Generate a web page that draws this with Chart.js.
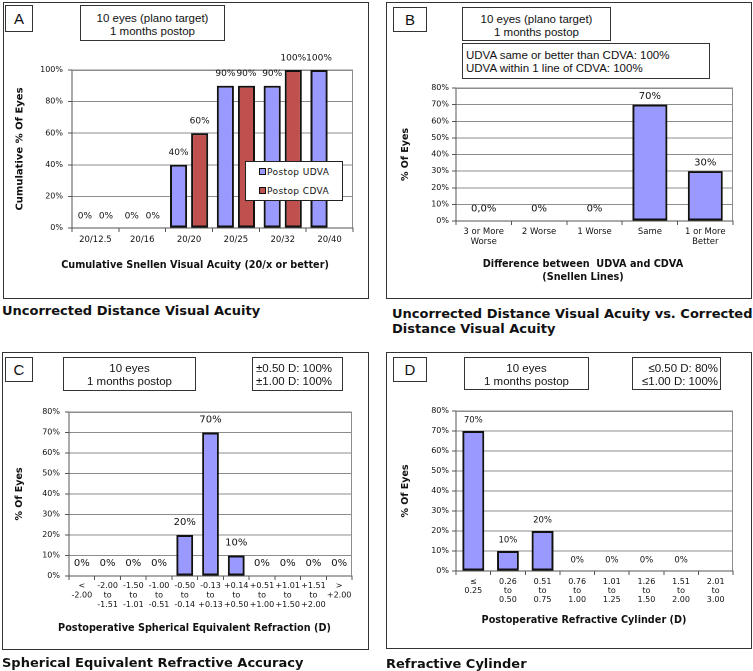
<!DOCTYPE html>
<html><head><meta charset="utf-8">
<script src="https://cdn.jsdelivr.net/npm/chart.js@4.4.0/dist/chart.umd.min.js"></script>
<style>
html,body{margin:0;padding:0;background:#fff;}
body{width:753px;height:671px;position:relative;overflow:hidden;font-family:'Liberation Sans',Arial,sans-serif;color:#111;}
.abs{position:absolute;box-sizing:border-box;}
.panel{border:1px solid #333;}
.box{border:1px solid #333;background:#fff;font-size:11.5px;line-height:13px;white-space:nowrap;}
.letter{font-size:15px;display:flex;align-items:center;justify-content:center;}
.ctr{text-align:center;}
.xt{font-family:'DejaVu Sans',sans-serif;font-weight:bold;font-size:9.7px;text-align:center;white-space:nowrap;line-height:13px;width:400px;}
.cap{font-family:'DejaVu Sans',sans-serif;font-weight:bold;font-size:13px;white-space:nowrap;line-height:15px;}
canvas{position:absolute;}
.leg{border:1px solid #222;background:#fff;font-family:'DejaVu Sans',sans-serif;font-size:9px;letter-spacing:0.4px;}
.legItem{position:absolute;left:13px;white-space:nowrap;line-height:11px;}
.sw{display:inline-block;width:5px;height:5px;border:1px solid #111;margin-right:1px;vertical-align:0px;}
</style></head>
<body>
<script>
// ---------------- DATA ----------------
const categoriesA = ['20/12.5', '20/16', '20/20', '20/25', '20/32', '20/40'];
const udvaA = [0, 0, 40, 90, 90, 100];
const cdvaA = [0, 0, 60, 90, 100, null];
const seriesNamesA = ['Postop UDVA', 'Postop CDVA'];

const categoriesB = [['3 or More', 'Worse'], '2 Worse', '1 Worse', 'Same', ['1 or More', 'Better']];
const valuesB = [0, 0, 0, 70, 30];
const labelTextB = ['0,0%', '0%', '0%', '70%', '30%'];

const categoriesC = [['<', '-2.00'], ['-2.00', 'to', '-1.51'], ['-1.50', 'to', '-1.01'], ['-1.00', 'to', '-0.51'],
  ['-0.50', 'to', '-0.14'], ['-0.13', 'to', '+0.13'], ['+0.14', 'to', '+0.50'], ['+0.51', 'to', '+1.00'],
  ['+1.01', 'to', '+1.50'], ['+1.51', 'to', '+2.00'], ['>', '+2.00']];
const valuesC = [0, 0, 0, 0, 20, 70, 10, 0, 0, 0, 0];

const categoriesD = [['≤', '0.25'], ['0.26', 'to', '0.50'], ['0.51', 'to', '0.75'], ['0.76', 'to', '1.00'],
  ['1.01', 'to', '1.25'], ['1.26', 'to', '1.50'], ['1.51', 'to', '2.00'], ['2.01', 'to', '3.00']];
const valuesD = [70, 10, 20, 0, 0, 0, 0, null];

const yMaxA = 100, yStepA = 20;
const yMaxBCD = 80, yStepBCD = 10;
</script>

<div class="abs panel" style="left:3px;top:2px;width:366px;height:297px;"></div>
<div class="abs panel" style="left:386px;top:2px;width:366px;height:297px;"></div>
<div class="abs panel" style="left:2px;top:352px;width:367px;height:298px;"></div>
<div class="abs panel" style="left:386px;top:352px;width:366px;height:297px;"></div>

<canvas id="cA"></canvas>
<canvas id="cB"></canvas>
<canvas id="cC"></canvas>
<canvas id="cD"></canvas>

<!-- Panel A -->
<div class="abs box letter" style="left:5px;top:5px;width:28px;height:27px;">A</div>
<div class="abs box ctr" style="left:80px;top:5px;width:145px;height:36px;padding-top:6px;">10 eyes (plano target)<br>1 months postop</div>
<div class="abs leg" id="legA" style="left:245px;top:161px;width:98px;height:40px;"></div>
<div class="abs xt" style="left:-5px;top:257.5px;">Cumulative Snellen Visual Acuity (20/x or better)</div>
<div class="abs cap" style="left:2px;top:302.5px;">Uncorrected Distance Visual Acuity</div>

<!-- Panel B -->
<div class="abs box letter" style="left:393px;top:7px;width:34px;height:25px;">B</div>
<div class="abs box ctr" style="left:462px;top:7px;width:149px;height:34px;padding-top:4.5px;">10 eyes (plano target)<br>1 months postop</div>
<div class="abs box" style="left:462px;top:43px;width:248px;height:36px;padding-top:5px;padding-left:3px;line-height:12.5px;">UDVA same or better than CDVA: 100%<br>UDVA within 1 line of CDVA: 100%</div>
<div class="abs xt" style="left:383px;top:256.5px;">Difference between&nbsp; UDVA and CDVA<br>(Snellen Lines)</div>
<div class="abs cap" style="left:392px;top:305.5px;">Uncorrected Distance Visual Acuity vs. Corrected<br>Distance Visual Acuity</div>

<!-- Panel C -->
<div class="abs box letter" style="left:5px;top:357px;width:28px;height:25px;">C</div>
<div class="abs box ctr" style="left:63px;top:357px;width:133px;height:34px;padding-top:3.5px;">10 eyes<br>1 months postop</div>
<div class="abs box" style="left:252px;top:357px;width:91px;height:34px;padding-top:3.5px;padding-left:3px;">±0.50 D: 100%<br>±1.00 D: 100%</div>
<div class="abs xt" style="left:-5.5px;top:620.5px;">Postoperative Spherical Equivalent Refraction (D)</div>
<div class="abs cap" style="left:2px;top:654.5px;">Spherical Equivalent Refractive Accuracy</div>

<!-- Panel D -->
<div class="abs box letter" style="left:393px;top:357px;width:34px;height:25px;">D</div>
<div class="abs box ctr" style="left:464px;top:357px;width:125px;height:33px;padding-top:3.5px;">10 eyes<br>1 months postop</div>
<div class="abs box" style="left:632px;top:357px;width:89px;height:33px;padding-top:3.5px;padding-right:2px;text-align:right;">≤0.50 D: 80%<br>≤1.00 D: 100%</div>
<div class="abs xt" style="left:384px;top:612.5px;">Postoperative Refractive Cylinder (D)</div>
<div class="abs cap" style="left:386px;top:655.5px;">Refractive Cylinder</div>

<script>
const FAM = "'DejaVu Sans', Verdana, sans-serif";
const BLUE = '#9999FF', RED = '#C0504D';
const AXIS = '#555555', GRID = '#8c8c8c';

const valueLabels = {
  id: 'valueLabels',
  afterDatasetsDraw(chart, args, opts) {
    const ctx = chart.ctx;
    ctx.save();
    ctx.font = (opts.size || 9) + 'px ' + FAM;
    ctx.fillStyle = '#111';
    ctx.textAlign = 'center';
    ctx.textBaseline = 'middle';
    chart.data.datasets.forEach((ds, di) => {
      const meta = chart.getDatasetMeta(di);
      meta.data.forEach((bar, i) => {
        const v = ds.data[i];
        if (v === null || v === undefined) return;
        const txt = (opts.texts && opts.texts[i]) ? opts.texts[i] : (v + '%');
        const off = (v === 0 && opts.zeroOffset) ? opts.zeroOffset : opts.offset;
        ctx.fillText(txt, bar.x, bar.y - off);
      });
    });
    ctx.restore();
  }
};

const plotBorder = {
  id: 'plotBorder',
  beforeDatasetsDraw(chart) {
    const a = chart.chartArea, ctx = chart.ctx;
    ctx.save();
    ctx.strokeStyle = GRID;
    ctx.lineWidth = 1;
    ctx.beginPath();
    ctx.moveTo(a.left, a.top + 0.5);
    ctx.lineTo(a.right - 0.5, a.top + 0.5);
    ctx.lineTo(a.right - 0.5, a.bottom);
    ctx.stroke();
    ctx.restore();
  }
};

function makeChart(id, rect, area, cfg) {
  const c = document.getElementById(id);
  c.style.left = rect.x + 'px';
  c.style.top = rect.y + 'px';
  c.width = rect.w; c.height = rect.h;
  c.style.width = rect.w + 'px'; c.style.height = rect.h + 'px';
  const yW = area.l - rect.x;
  const xH = rect.y + rect.h - area.b;
  return new Chart(c, {
    type: 'bar',
    data: { labels: cfg.labels, datasets: cfg.datasets },
    options: {
      responsive: false,
      animation: false,
      devicePixelRatio: 2,
      layout: { padding: { left: 0, top: area.t - rect.y, right: rect.x + rect.w - area.r, bottom: 0 } },
      datasets: { bar: { categoryPercentage: cfg.catPct, barPercentage: cfg.barPct } },
      plugins: {
        legend: { display: false },
        tooltip: { enabled: false },
        valueLabels: cfg.valueLabels
      },
      scales: {
        x: {
          grid: { offset: true, drawOnChartArea: false, tickLength: 4, color: AXIS },
          border: { color: AXIS, width: 1 },
          ticks: { autoSkip: false, maxRotation: 0, minRotation: 0, color: '#111', padding: cfg.xPad,
            font: { family: FAM, size: cfg.xFont, lineHeight: cfg.xLine } },
          afterFit(s) { s.height = xH; }
        },
        y: {
          min: 0, max: cfg.yMax,
          ticks: { stepSize: cfg.yStep, color: '#111', padding: cfg.yPad, callback: v => v + '%',
            font: { family: FAM, size: 8 } },
          grid: { color: ctx => (ctx.tick && ctx.tick.value === 0) ? AXIS : GRID, tickColor: AXIS, tickLength: 4 },
          border: { color: AXIS, width: 1 },
          title: { display: true, text: cfg.yTitle, color: '#111', padding: { top: cfg.yTitlePad, bottom: 0 },
            font: { family: FAM, size: cfg.yTitleSize, weight: 'bold' } },
          afterFit(s) { s.width = yW; }
        }
      }
    },
    plugins: [valueLabels, plotBorder]
  });
}

const barStyle = { borderColor: '#111', borderWidth: 2, borderSkipped: false };

// Panel A
makeChart('cA', { x: 4, y: 3, w: 364, h: 295 }, { l: 72, t: 70, r: 353, b: 228 }, {
  labels: categoriesA,
  datasets: [
    Object.assign({ label: seriesNamesA[0], data: udvaA, backgroundColor: BLUE }, barStyle),
    Object.assign({ label: seriesNamesA[1], data: cdvaA, backgroundColor: RED }, barStyle)
  ],
  catPct: 0.9, barPct: 0.81, yMax: yMaxA, yStep: yStepA, yPad: 5,
  xFont: 8.5, xLine: 1.18, xPad: 3,
  yTitle: 'Cumulative % Of Eyes', yTitleSize: 10, yTitlePad: 10,
  valueLabels: { size: 9, offset: 12 }
});

// Legend A built from the series
const legA = document.getElementById('legA');
[[seriesNamesA[0], BLUE, 5], [seriesNamesA[1], RED, 24]].forEach(([name, col, top]) => {
  const d = document.createElement('div');
  d.className = 'legItem';
  d.style.top = top + 'px';
  d.innerHTML = '<span class="sw" style="background:' + col + '"></span>' + name;
  legA.appendChild(d);
});

// Panel B
makeChart('cB', { x: 387, y: 3, w: 364, h: 295 }, { l: 456, t: 88, r: 733, b: 221 }, {
  labels: categoriesB,
  datasets: [Object.assign({ label: 'B', data: valuesB, backgroundColor: BLUE }, barStyle)],
  catPct: 1.0, barPct: 0.63, yMax: yMaxBCD, yStep: yStepBCD, yPad: 3,
  xFont: 8.5, xLine: 1.18, xPad: 2,
  yTitle: '% Of Eyes', yTitleSize: 9.5, yTitlePad: 13,
  valueLabels: { size: 10, offset: 8, zeroOffset: 12, texts: labelTextB }
});

// Panel C
makeChart('cC', { x: 3, y: 353, w: 365, h: 296 }, { l: 69, t: 412, r: 352, b: 576 }, {
  labels: categoriesC,
  datasets: [Object.assign({ label: 'C', data: valuesC, backgroundColor: BLUE }, barStyle)],
  catPct: 1.0, barPct: 0.65, yMax: yMaxBCD, yStep: yStepBCD, yPad: 5,
  xFont: 8, xLine: 1.19, xPad: 1,
  yTitle: '% Of Eyes', yTitleSize: 9.5, yTitlePad: 11,
  valueLabels: { size: 10, offset: 12.5 }
});

// Panel D
makeChart('cD', { x: 387, y: 353, w: 364, h: 295 }, { l: 456, t: 411, r: 733, b: 571 }, {
  labels: categoriesD,
  datasets: [Object.assign({ label: 'D', data: valuesD, backgroundColor: BLUE }, barStyle)],
  catPct: 1.0, barPct: 0.63, yMax: yMaxBCD, yStep: yStepBCD, yPad: 3,
  xFont: 8, xLine: 1.13, xPad: 2.5,
  yTitle: '% Of Eyes', yTitleSize: 9.5, yTitlePad: 13,
  valueLabels: { size: 8.5, offset: 10.5 }
});
</script>
</body></html>
